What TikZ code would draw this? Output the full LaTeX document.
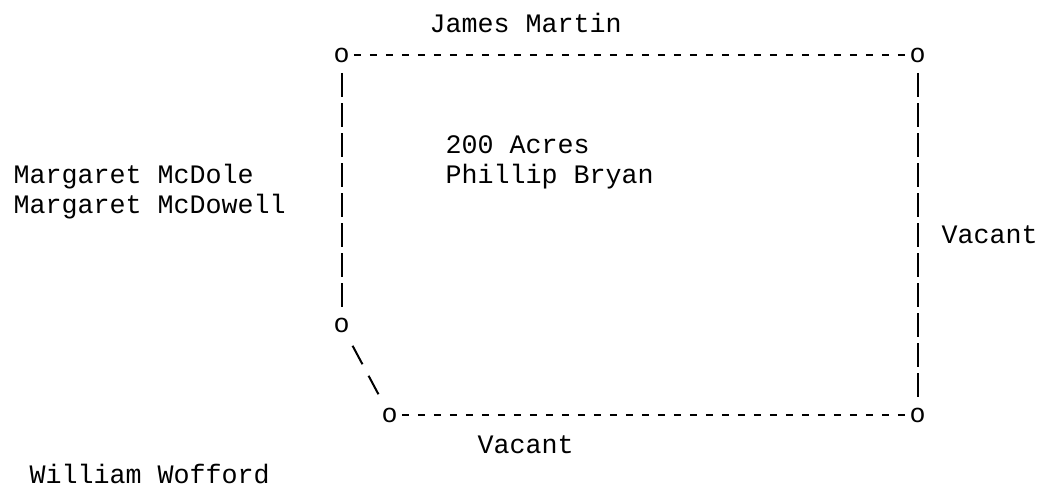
\documentclass[tikz,border=0pt]{standalone}
\usepackage{fontspec}
\newfontfamily\platfont{Liberation Mono}
\newcommand{\platmono}{\platfont\fontsize{26.67pt}{30pt}\selectfont}

\begin{document}
\begin{tikzpicture}[x=1pt,y=-1pt,
		mono/.style={font=\platmono,inner sep=0pt},
		owner/.style={mono,anchor=base west},
		corner/.style={mono},
		hrule/.style={line width=2pt,dash pattern=on 7.3pt off 8.7pt,shorten <=12.35pt,shorten >=12.35pt},
		vrule/.style={line width=2pt,dash pattern=on 24pt off 6pt,shorten <=18pt,shorten >=18pt},
		slant/.style={line width=2pt,dash pattern=on 21pt off 13pt,shorten <=23.5pt,shorten >=23.5pt}]
		\useasboundingbox (0,0) rectangle (1039,487);
		
		% corners of the tract
		\node[corner] (nw) at(341.5,55) {o};
		\node[corner] (ne) at(917.5,55) {o};
		\node[corner] (mw) at(341.5,325) {o};
		\node[corner] (sw) at(389.5,415) {o};
		\node[corner] (se) at(917.5,415) {o};
		
		\draw[hrule] (nw.center) -- (ne.center);
		\draw[vrule] (nw.center) -- (mw.center);
		\draw[slant] (mw.center) -- (sw.center);
		\draw[hrule] (sw.center) -- (se.center);
		\draw[vrule] (ne.center) -- (se.center);
		
		% neighbours
		\node[owner] (martin) at(429.5,33) {James Martin};
		\node[owner] (acres) at(445.5,153) {200 Acres};
		\node[owner] (bryan) at(445.5,183) {Phillip Bryan};
		\node[owner] (mcdole) at(13.5,183) {Margaret McDole};
		\node[owner] (mcdowell) at(13.5,213) {Margaret McDowell};
		\node[owner] (vacante) at(941.5,243) {Vacant};
		\node[owner] (vacants) at(477.5,453) {Vacant};
		\node[owner] (wofford) at(29.5,483) {William Wofford};
\end{tikzpicture}
\end{document}
